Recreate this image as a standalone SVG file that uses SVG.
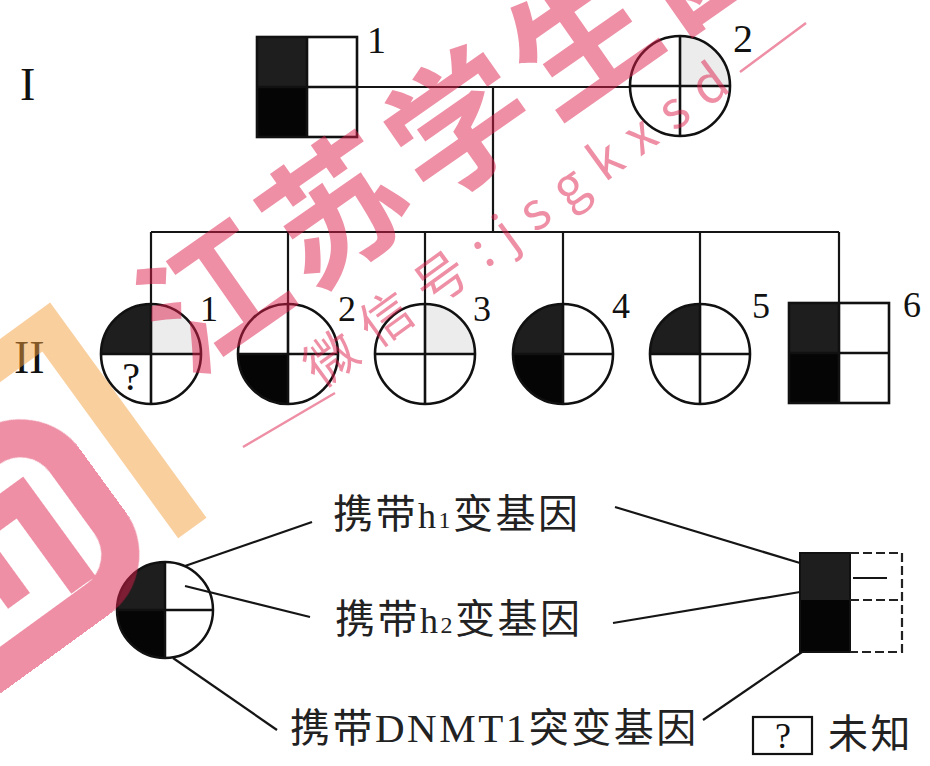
<svg xmlns="http://www.w3.org/2000/svg" xmlns:xlink="http://www.w3.org/1999/xlink" width="930" height="766" viewBox="0 0 930 766">
<style>
.sym{stroke:#111;stroke-width:2.6;fill:none}
.ln{stroke:#151515;stroke-width:2.2;fill:none}
.dk{fill:#1e1e1e}
.bk{fill:#050505}
.lg{fill:#ececec}
.lbl{font-family:"Liberation Serif","Times New Roman",serif;fill:#111}
.cjk{font-family:"Noto Sans CJK SC","Noto Sans CJK JP",sans-serif;font-size:40px;fill:#222;letter-spacing:2.5px}
.lat{font-family:"Liberation Serif","Times New Roman",serif}
</style>
<defs>
<path id="qTL" d="M0,0 L-50,0 A50,50 0 0 1 0,-50 Z"/>
<path id="qTR" d="M0,0 L0,-50 A50,50 0 0 1 50,0 Z"/>
<path id="qBL" d="M0,0 L0,50 A50,50 0 0 1 -50,0 Z"/>
<path id="qBR" d="M0,0 L50,0 A50,50 0 0 1 0,50 Z"/>
<g id="circ"><circle r="50" class="sym"/><path d="M-50,0 H50 M0,-50 V50" class="sym"/></g>
<g id="sq"><rect x="-50" y="-50" width="100" height="100" class="sym"/><path d="M-50,0 H50 M0,-50 V50" class="sym"/></g>
</defs>
<rect width="930" height="766" fill="#fff"/>

<!-- generation labels -->
<text class="lbl" x="20" y="100" font-size="46">I</text>
<text class="lbl" x="14" y="373" font-size="46">II</text>

<!-- connectors -->
<g id="connectors">
<path class="ln" d="M357,87 H630"/>
<path class="ln" d="M493,87 V232"/>
<path class="ln" d="M151,232 H839"/>
<path class="ln" d="M151,232 V304 M288,232 V304 M425,232 V304 M563,232 V304 M700,232 V304 M839,232 V303"/>
<path class="ln" d="M185,566 L312,522"/>
<path class="ln" d="M185,586 L310,617"/>
<path class="ln" d="M173,658 L277,730"/>
<path class="ln" d="M615,507 L800,563"/>
<path class="ln" d="M613,623 L800,592"/>
<path class="ln" d="M703,720 L802,652"/>
</g>

<!-- generation I -->
<g id="I-1" transform="translate(307,87)">
<rect x="-50" y="-50" width="50" height="50" class="dk"/>
<rect x="-50" y="0" width="50" height="50" class="bk"/>
<use xlink:href="#sq"/>
<text class="lbl" x="60" y="-34" font-size="38">1</text>
</g>
<g id="I-2" transform="translate(680,86)">
<use xlink:href="#qTR" class="lg"/>
<use xlink:href="#circ"/>
<text class="lbl" x="53" y="-34" font-size="40">2</text>
</g>

<!-- generation II -->
<g id="II-1" transform="translate(151,354)">
<use xlink:href="#qTL" class="dk"/>
<use xlink:href="#qTR" class="lg"/>
<use xlink:href="#circ"/>
<text class="lbl" x="-20" y="36" font-size="40" text-anchor="middle">?</text>
<text class="lbl" x="49" y="-33" font-size="36">1</text>
</g>
<g id="II-2" transform="translate(288,354)">
<use xlink:href="#qBL" class="bk"/>
<use xlink:href="#circ"/>
<text class="lbl" x="50" y="-33" font-size="36">2</text>
</g>
<g id="II-3" transform="translate(425,354)">
<use xlink:href="#qTR" class="lg"/>
<use xlink:href="#circ"/>
<text class="lbl" x="48" y="-33" font-size="36">3</text>
</g>
<g id="II-4" transform="translate(563,354)">
<use xlink:href="#qTL" class="dk"/>
<use xlink:href="#qBL" class="bk"/>
<use xlink:href="#circ"/>
<text class="lbl" x="49" y="-36" font-size="36">4</text>
</g>
<g id="II-5" transform="translate(700,354)">
<use xlink:href="#qTL" class="dk"/>
<use xlink:href="#circ"/>
<text class="lbl" x="52" y="-36" font-size="36">5</text>
</g>
<g id="II-6" transform="translate(839,353)">
<rect x="-50" y="-50" width="50" height="50" class="dk"/>
<rect x="-50" y="0" width="50" height="50" class="bk"/>
<use xlink:href="#sq"/>
<text class="lbl" x="64" y="-36" font-size="36">6</text>
</g>

<!-- legend -->
<g id="legend-circle" transform="translate(165,610) scale(0.96)">
<use xlink:href="#qTL" class="dk"/>
<use xlink:href="#qBL" class="bk"/>
<use xlink:href="#circ"/>
</g>
<g id="legend-square">
<rect x="800" y="553" width="50" height="47" class="dk"/>
<rect x="800" y="600" width="50" height="52" class="bk"/>
<rect x="800" y="553" width="50" height="99" fill="none" stroke="#111" stroke-width="2"/>
<path d="M850,553 H902 V652 H850 M850,600 H902" fill="none" stroke="#222" stroke-width="2.2" stroke-dasharray="9 4"/>
<path d="M853,578 H887" class="ln"/>
</g>
<g id="label-h1"><text class="cjk" x="333" y="528">携带<tspan class="lat" font-size="36">h</tspan><tspan class="lat" font-size="24">1</tspan>变基因</text></g>
<g id="label-h2"><text class="cjk" x="335" y="633">携带<tspan class="lat" font-size="36">h</tspan><tspan class="lat" font-size="24">2</tspan>变基因</text></g>
<g id="label-dnmt1"><text class="cjk" x="290" y="742">携带<tspan class="lat" font-size="41">DNMT1</tspan>突变基因</text></g>
<g id="legend-unknown">
<rect x="753" y="717" width="59" height="37" fill="none" stroke="#111" stroke-width="2.2"/>
<text class="lbl" x="783" y="748" font-size="36" text-anchor="middle">?</text>
<text class="cjk" x="828" y="748">未知</text>
</g>

<!-- watermark -->
<g id="watermark">
<g opacity="0.5" fill="#f5a040">
<path transform="translate(37,390) rotate(54)" d="M-63,-62 H203 V-27 H-28 V400 H-63 Z"/>
</g>
<g opacity="0.5" fill="#dc1e4b" stroke="#dc1e4b">
<g transform="translate(37,390) rotate(54)">
<rect x="19" y="19" width="186" height="240" rx="55" fill="none" stroke-width="38"/>
<path stroke="none" d="M62,62 H185 V92 H92 V125 H160 V152 H92 V185 H160 V212 H62 Z"/>
</g>
<text transform="translate(462,120) rotate(-35)" x="0" y="53" text-anchor="middle" stroke="none" font-family="'Noto Sans CJK SC',sans-serif" font-weight="700" font-size="140" letter-spacing="10">江苏学生园</text>
<text transform="translate(321,389) rotate(-36)" x="0" y="0" stroke="none" font-family="'Noto Sans CJK SC',sans-serif" font-size="52" letter-spacing="16">微信号:jsgkxsd</text>
<path d="M243,447 L335,393 M740,72 L806,23" fill="none" stroke-width="2.5"/>
</g>
</g>
</svg>
